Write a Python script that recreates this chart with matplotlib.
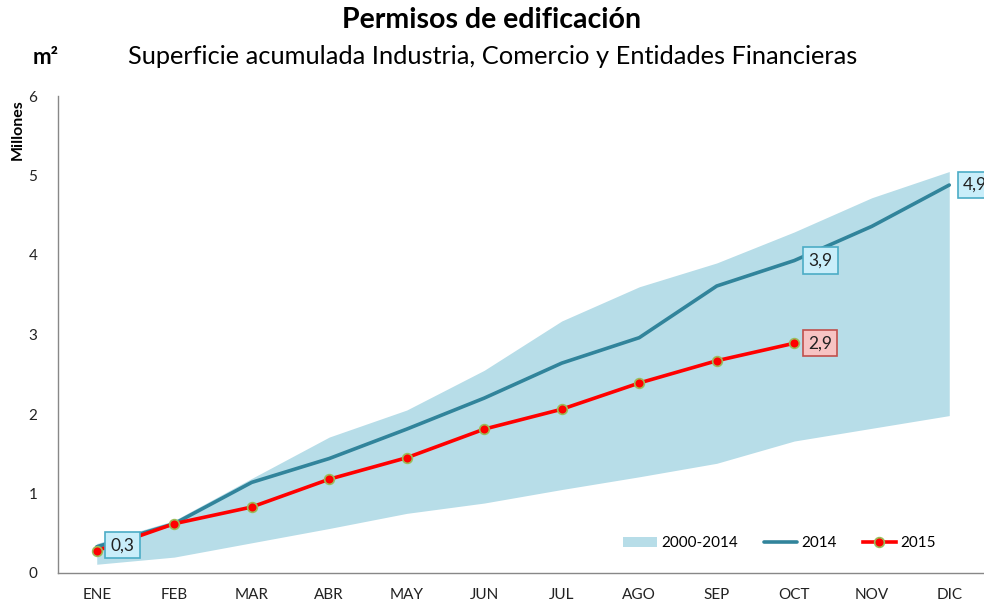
import matplotlib
matplotlib.use("Agg")
import matplotlib.pyplot as plt
import numpy as np

months = ["ENE", "FEB", "MAR", "ABR", "MAY", "JUN", "JUL", "AGO", "SEP", "OCT", "NOV", "DIC"]
band_low = [0.11, 0.20, 0.38, 0.56, 0.75, 0.88, 1.05, 1.21, 1.38, 1.66, 1.82, 1.98]
band_high = [0.37, 0.66, 1.19, 1.71, 2.05, 2.55, 3.17, 3.60, 3.90, 4.29, 4.72, 5.05]
s2014 = [0.33, 0.62, 1.14, 1.44, 1.81, 2.20, 2.64, 2.96, 3.61, 3.93, 4.36, 4.88]
s2015 = [0.28, 0.62, 0.83, 1.18, 1.45, 1.81, 2.06, 2.39, 2.67, 2.89]
yticks = [0, 1, 2, 3, 4, 5, 6]

plt.rcParams['font.family'] = ['Lato', 'DejaVu Sans']

fig = plt.figure(figsize=(9.84, 6.04), dpi=100)
W, H = 984, 604
left, right, top, bottom = 58, 988, 96, 573
ax = fig.add_axes([left / W, 1 - bottom / H, (right - left) / W, (bottom - top) / H])

x = np.arange(len(months))
x15 = np.arange(len(s2015))

ax.fill_between(x, band_low, band_high, color="#b7dde8", linewidth=0, label="2000-2014")
ax.plot(x, s2014, color="#31849b", lw=2.6, label="2014", solid_capstyle="round")
ax.plot(x15, s2015, color="#ff0000", lw=2.6, marker="o", markersize=7,
        markerfacecolor="#ff0000", markeredgecolor="#9bbb59", markeredgewidth=1.2, label="2015")

ax.set_xlim(-0.5, len(months) - 0.5)
ax.set_ylim(0, 6)
ax.set_xticks(x)
ax.set_xticklabels(months)
ax.set_yticks(yticks)
ax.tick_params(axis="both", length=0, labelsize=11, colors="#222222")
ax.tick_params(axis="x", pad=11)
ax.tick_params(axis="y", pad=15)
for s in ["top", "right"]:
    ax.spines[s].set_visible(False)
for s in ["left", "bottom"]:
    ax.spines[s].set_color("#888888")
    ax.spines[s].set_linewidth(1.0)

blue_box = dict(boxstyle="square,pad=0.3", fc="#c9eefa", ec="#4bacc6", lw=1.2)
red_box = dict(boxstyle="square,pad=0.3", fc="#f7c3c3", ec="#c0504d", lw=1.2)

def lab(xi, yi, txt, box, dx=0.18):
    ax.text(xi + dx, yi, txt, fontsize=12.5, va="center", ha="left", bbox=box, color="#222222",
            clip_on=False)

lab(x15[0], s2015[0] + 0.07, "0,3", blue_box)
lab(x[9], s2014[9], "3,9", blue_box)
lab(x15[-1], s2015[-1], "2,9", red_box)
lab(x[11], s2014[11], "4,9", blue_box)

leg = ax.legend(loc="lower right", bbox_to_anchor=(0.955, 0.025), ncol=3, frameon=False,
                fontsize=11, handlelength=2.2, columnspacing=1.7, handletextpad=0.25,
                borderpad=0.2)

fig.text(492 / W, 1 - 20 / H, "Permisos de edificación", ha="center", va="center",
         fontsize=20.5, fontweight="bold")
fig.text(493 / W, 1 - 56 / H, "Superficie acumulada Industria, Comercio y Entidades Financieras",
         ha="center", va="center", fontsize=18.3)
fig.text(46 / W, 1 - 57 / H, "m²", ha="center", va="center", fontsize=16, fontweight="bold")
fig.text(18 / W, 1 - 130 / H, "Millones", ha="center", va="center", rotation=90,
         fontsize=11.5, fontweight="bold")

fig.savefig("out.png", dpi=100)
